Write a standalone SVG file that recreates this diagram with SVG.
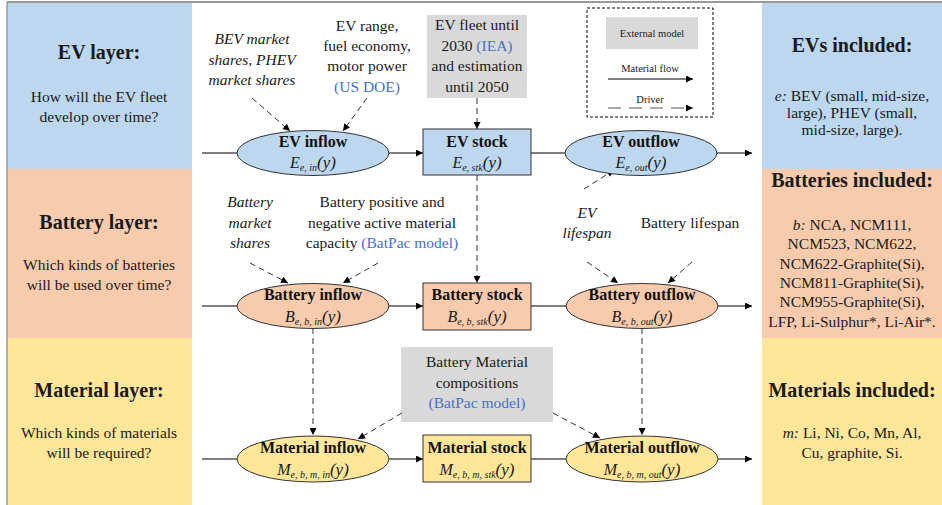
<svg xmlns="http://www.w3.org/2000/svg" width="942" height="505" viewBox="0 0 942 505" font-family="'Liberation Serif', serif">
<defs>
<style>
.title{font-size:20px;font-weight:bold;text-anchor:middle;fill:#1a1a1a}
.q{font-size:15.5px;text-anchor:middle;fill:#1a1a1a}
.drv{font-size:15.5px;text-anchor:middle;fill:#1a1a1a}
.it{font-style:italic}
.blue{fill:#4472C4}
.nt{font-size:16px;font-weight:bold;text-anchor:middle;fill:#111}
.fm{font-size:16px;font-style:italic;text-anchor:middle;fill:#1a1a1a}
.sub{font-size:10px}
.par{font-size:17px}
.flow{stroke:#000;stroke-width:1;fill:none}
.arr{marker-end:url(#arr)}
.dash{stroke:#333;stroke-width:1;stroke-dasharray:6,4;fill:none;marker-end:url(#arr)}
.ext{fill:#D9D9D9}
.evn{fill:#BDD7EE;stroke:#333;stroke-width:1}
.btn{fill:#F8CBAD;stroke:#333;stroke-width:1}
.mtn{fill:#FFE699;stroke:#333;stroke-width:1}
.lg{font-size:10.5px;text-anchor:middle;fill:#1a1a1a}
</style>
<marker id="arr" viewBox="0 0 10 10" refX="10" refY="5" markerWidth="9" markerHeight="7" markerUnits="userSpaceOnUse" orient="auto"><path d="M0,0 L10,5 L0,10 z" fill="#000"/></marker>
</defs>
<rect x="0" y="0" width="942" height="505" fill="#fff"/>
<!-- layer panels -->
<g id="left-panels">
<rect x="7" y="3" width="185" height="166" fill="#BDD7EE"/>
<rect x="7" y="169" width="185" height="169" fill="#F8CBAD"/>
<rect x="7" y="338" width="185" height="167" fill="#FFE699"/>
<text class="title" x="99" y="59">EV layer:</text>
<text class="q" x="99" y="102">How will the EV fleet</text>
<text class="q" x="99" y="122">develop over time?</text>
<text class="title" x="99" y="229">Battery layer:</text>
<text class="q" x="99" y="270">Which kinds of batteries</text>
<text class="q" x="99" y="290">will be used over time?</text>
<text class="title" x="99" y="397">Material layer:</text>
<text class="q" x="99" y="438">Which kinds of materials</text>
<text class="q" x="99" y="458">will be required?</text>
</g>
<g id="right-panels">
<rect x="762" y="3" width="180" height="166" fill="#BDD7EE"/>
<rect x="762" y="169" width="180" height="169" fill="#F8CBAD"/>
<rect x="762" y="338" width="180" height="167" fill="#FFE699"/>
<text class="title" x="852" y="52">EVs included:</text>
<text class="q" x="852" y="101"><tspan class="it">e:</tspan> BEV (small, mid-size,</text>
<text class="q" x="852" y="118">large), PHEV (small,</text>
<text class="q" x="852" y="135">mid-size, large).</text>
<text class="title" x="852" y="187">Batteries included:</text>
<text class="q" x="852" y="230"><tspan class="it">b:</tspan> NCA, NCM111,</text>
<text class="q" x="852" y="249">NCM523, NCM622,</text>
<text class="q" x="852" y="269">NCM622-Graphite(Si),</text>
<text class="q" x="852" y="288">NCM811-Graphite(Si),</text>
<text class="q" x="852" y="307">NCM955-Graphite(Si),</text>
<text class="q" x="852" y="327">LFP, Li-Sulphur*, Li-Air*.</text>
<text class="title" x="852" y="397">Materials included:</text>
<text class="q" x="852" y="438"><tspan class="it">m:</tspan> Li,  Ni, Co, Mn, Al,</text>
<text class="q" x="852" y="458">Cu, graphite, Si.</text>
</g>
<line x1="7" y1="2" x2="942" y2="2" stroke="#999" stroke-width="2"/>
<line x1="7" y1="2" x2="7" y2="505" stroke="#999" stroke-width="1.5"/>
<!-- legend -->
<g id="legend">
<rect x="587" y="8" width="126" height="109" fill="none" stroke="#000" stroke-width="1" stroke-dasharray="3,2"/>
<rect class="ext" x="606" y="17" width="92" height="32"/>
<text class="lg" x="652" y="37">External model</text>
<text class="lg" x="650" y="72">Material flow</text>
<line class="flow arr" x1="608" y1="79" x2="693" y2="79"/>
<text class="lg" x="650" y="103">Driver</text>
<line x1="608" y1="108" x2="693" y2="108" stroke="#555" stroke-width="1.2" stroke-dasharray="13,8" marker-end="url(#arr)"/>
</g>
<!-- external inputs / drivers -->
<g id="drv-bev-share"><text class="drv it" x="252" y="44">BEV market</text><text class="drv it" x="252" y="65">shares, PHEV</text><text class="drv it" x="252" y="85">market shares</text></g>
<g id="drv-ev-range"><text class="drv" x="367" y="31">EV range,</text><text class="drv" x="367" y="51">fuel economy,</text><text class="drv" x="367" y="71">motor power</text><text class="drv blue" x="367" y="92">(US DOE)</text></g>
<g id="ext-ev-fleet"><rect class="ext" x="427" y="15" width="100" height="83"/><text class="drv" x="477" y="30">EV fleet until</text><text class="drv" x="477" y="51">2030 <tspan class="blue">(IEA)</tspan></text><text class="drv" x="477" y="71">and estimation</text><text class="drv" x="477" y="92">until 2050</text></g>
<g id="drv-bat-share"><text class="drv it" x="250" y="207">Battery</text><text class="drv it" x="250" y="228">market</text><text class="drv it" x="250" y="248">shares</text></g>
<g id="drv-bat-capacity"><text class="drv" x="382" y="207">Battery positive and</text><text class="drv" x="382" y="228">negative active material</text><text class="drv" x="382" y="248">capacity <tspan class="blue">(BatPac model)</tspan></text></g>
<g id="drv-ev-lifespan"><text class="drv it" x="587" y="218">EV</text><text class="drv it" x="587" y="238">lifespan</text></g>
<g id="drv-bat-lifespan"><text class="drv" x="690" y="228">Battery lifespan</text></g>
<g id="ext-bat-comp"><rect class="ext" x="401" y="347" width="152" height="75"/><text class="drv" x="477" y="367">Battery Material</text><text class="drv" x="477" y="388">compositions</text><text class="drv blue" x="477" y="408">(BatPac model)</text></g>
<!-- connectors -->
<g id="connectors">
<line class="flow" x1="202" y1="153" x2="237" y2="153"/>
<line class="flow arr" x1="389" y1="153" x2="423" y2="153"/>
<line class="flow" x1="531" y1="153" x2="565" y2="153"/>
<line class="flow arr" x1="717" y1="153" x2="752" y2="153"/>
<line class="flow" x1="202" y1="306" x2="237" y2="306"/>
<line class="flow arr" x1="389" y1="306" x2="423" y2="306"/>
<line class="flow" x1="531" y1="306" x2="566" y2="306"/>
<line class="flow arr" x1="718" y1="306" x2="752" y2="306"/>
<line class="flow" x1="202" y1="459" x2="237" y2="459"/>
<line class="flow arr" x1="389" y1="459" x2="423" y2="459"/>
<line class="flow" x1="531" y1="459" x2="566" y2="459"/>
<line class="flow arr" x1="718" y1="459" x2="752" y2="459"/>
<line class="dash" x1="477" y1="98" x2="477" y2="129"/>
<line class="dash" x1="477" y1="175" x2="477" y2="283"/>
<line class="dash" x1="313" y1="328" x2="313" y2="435"/>
<line class="dash" x1="642" y1="328" x2="642" y2="435"/>
<line class="dash" x1="252" y1="98" x2="290" y2="131"/>
<line class="dash" x1="367" y1="98" x2="343" y2="131"/>
<line class="dash" x1="584" y1="189" x2="614" y2="170"/>
<line class="dash" x1="250" y1="263" x2="288" y2="283"/>
<line class="dash" x1="378" y1="263" x2="343" y2="283"/>
<line class="dash" x1="587" y1="262" x2="618" y2="283"/>
<line class="dash" x1="692" y1="262" x2="668" y2="283"/>
<line class="dash" x1="402" y1="413" x2="358" y2="439"/>
<line class="dash" x1="553" y1="413" x2="600" y2="438"/>
</g>
<!-- nodes -->
<g id="ev-inflow"><ellipse class="evn" cx="313" cy="153" rx="76" ry="22.5"/><text class="nt" x="313" y="147">EV inflow</text><text class="fm" x="313" y="168">E<tspan class="sub" dy="3">e, in</tspan><tspan class="par" dy="-3">(y)</tspan></text></g>
<g id="ev-stock"><rect class="evn" x="423" y="129" width="108" height="46"/><text class="nt" x="477" y="147">EV stock</text><text class="fm" x="477" y="168">E<tspan class="sub" dy="3">e, stk</tspan><tspan class="par" dy="-3">(y)</tspan></text></g>
<g id="ev-outflow"><ellipse class="evn" cx="641" cy="153" rx="76" ry="22.5"/><text class="nt" x="641" y="147">EV outflow</text><text class="fm" x="641" y="168">E<tspan class="sub" dy="3">e, out</tspan><tspan class="par" dy="-3">(y)</tspan></text></g>
<g id="battery-inflow"><ellipse class="btn" cx="313" cy="306" rx="76" ry="22.5"/><text class="nt" x="313" y="300">Battery inflow</text><text class="fm" x="313" y="322">B<tspan class="sub" dy="3">e, b, in</tspan><tspan class="par" dy="-3">(y)</tspan></text></g>
<g id="battery-stock"><rect class="btn" x="423" y="283" width="108" height="47"/><text class="nt" x="477" y="300">Battery stock</text><text class="fm" x="477" y="322">B<tspan class="sub" dy="3">e, b, stk</tspan><tspan class="par" dy="-3">(y)</tspan></text></g>
<g id="battery-outflow"><ellipse class="btn" cx="642" cy="306" rx="76" ry="22.5"/><text class="nt" x="642" y="300">Battery outflow</text><text class="fm" x="642" y="322">B<tspan class="sub" dy="3">e, b, out</tspan><tspan class="par" dy="-3">(y)</tspan></text></g>
<g id="material-inflow"><ellipse class="mtn" cx="313" cy="459" rx="76" ry="23"/><text class="nt" x="313" y="453">Material inflow</text><text class="fm" x="313" y="475">M<tspan class="sub" dy="3">e, b, m, in</tspan><tspan class="par" dy="-3">(y)</tspan></text></g>
<g id="material-stock"><rect class="mtn" x="423" y="435" width="108" height="47"/><text class="nt" x="477" y="453">Material stock</text><text class="fm" x="477" y="475">M<tspan class="sub" dy="3">e, b, m, stk</tspan><tspan class="par" dy="-3">(y)</tspan></text></g>
<g id="material-outflow"><ellipse class="mtn" cx="642" cy="459" rx="76" ry="23"/><text class="nt" x="642" y="453">Material outflow</text><text class="fm" x="642" y="475">M<tspan class="sub" dy="3">e, b, m, out</tspan><tspan class="par" dy="-3">(y)</tspan></text></g>
</svg>
